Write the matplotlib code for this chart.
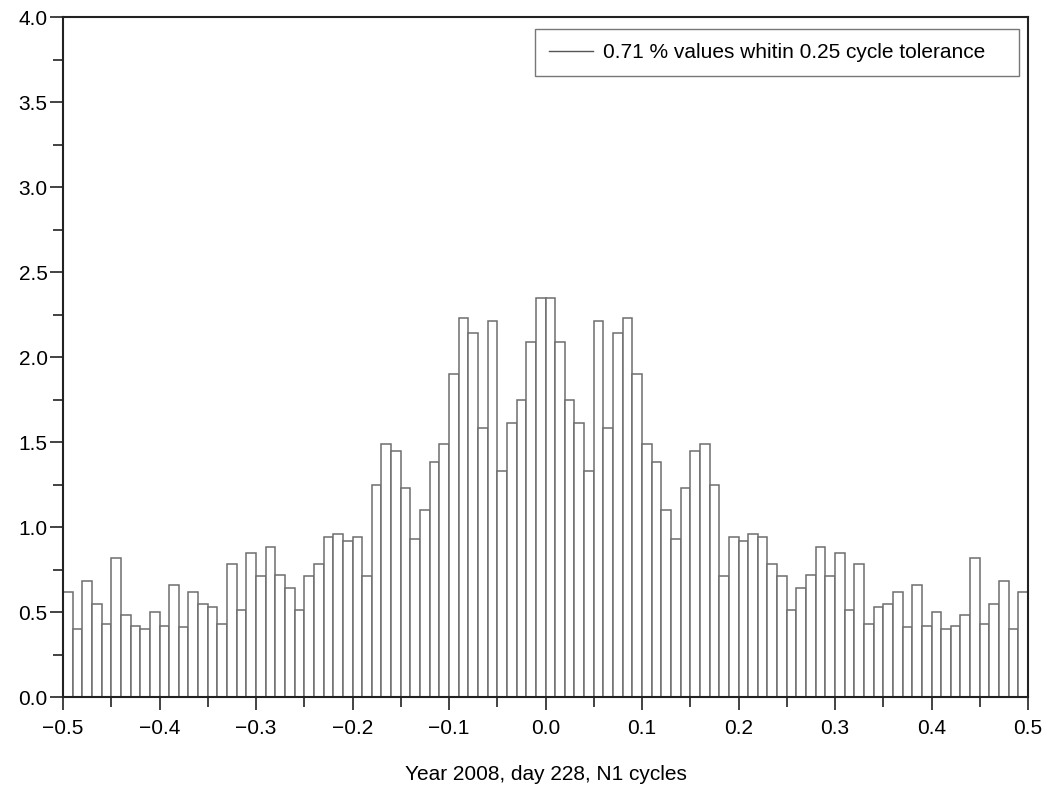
import matplotlib
matplotlib.use("Agg")
import matplotlib.pyplot as plt
from matplotlib.ticker import MultipleLocator, FuncFormatter
from matplotlib.lines import Line2D

# Histogram of N1 fractional cycles, 100 bins of width 0.01 from -0.5 to 0.5
bin_left_edges = [round(-0.5 + 0.01 * i, 2) for i in range(100)]
heights = [
    0.62, 0.40, 0.68, 0.55, 0.43, 0.82, 0.48, 0.42, 0.40, 0.50,
    0.42, 0.66, 0.41, 0.62, 0.55, 0.53, 0.43, 0.78, 0.51, 0.85,
    0.71, 0.88, 0.72, 0.64, 0.51, 0.71, 0.78, 0.94, 0.96, 0.92,
    0.94, 0.71, 1.25, 1.49, 1.45, 1.23, 0.93, 1.10, 1.38, 1.49,
    1.90, 2.23, 2.14, 1.58, 2.21, 1.33, 1.61, 1.75, 2.09, 2.35,
    2.35, 2.09, 1.75, 1.61, 1.33, 2.21, 1.58, 2.14, 2.23, 1.90,
    1.49, 1.38, 1.10, 0.93, 1.23, 1.45, 1.49, 1.25, 0.71, 0.94,
    0.92, 0.96, 0.94, 0.78, 0.71, 0.51, 0.64, 0.72, 0.88, 0.71,
    0.85, 0.51, 0.78, 0.43, 0.53, 0.55, 0.62, 0.41, 0.66, 0.42,
    0.50, 0.40, 0.42, 0.48, 0.82, 0.43, 0.55, 0.68, 0.40, 0.62,
]
bin_width = 0.01
legend_label = "0.71 % values whitin 0.25 cycle tolerance"
x_label = "Year 2008, day 228, N1 cycles"

plt.rcParams['font.family'] = ['Liberation Sans', 'DejaVu Sans']
plt.rcParams['axes.unicode_minus'] = True

fig = plt.figure(figsize=(10.57, 7.85), dpi=100)
ax = fig.add_axes([0.0596, 0.1121, 0.9130, 0.8662])

ax.bar(bin_left_edges, heights, width=bin_width, align='edge',
       facecolor='white', edgecolor='#6e6e6e', linewidth=1.1, zorder=2)

ax.set_xlim(-0.5, 0.5)
ax.set_ylim(0, 4.0)

ax.xaxis.set_major_locator(MultipleLocator(0.1))
ax.xaxis.set_minor_locator(MultipleLocator(0.05))
ax.yaxis.set_major_locator(MultipleLocator(0.5))
ax.yaxis.set_minor_locator(MultipleLocator(0.25))

fmt = FuncFormatter(lambda v, p: ("%.1f" % (0.0 if abs(v) < 1e-9 else v)).replace('-', '\u2212'))
ax.xaxis.set_major_formatter(fmt)
ax.yaxis.set_major_formatter(fmt)

ax.tick_params(which='major', direction='out', length=9.5, width=1.2,
               labelsize=15, color='#222222')
ax.tick_params(which='minor', direction='out', length=7.5, width=1.2, color='#222222')
ax.tick_params(axis='y', pad=1.5)
ax.tick_params(axis='x', pad=6.5)
ax.tick_params(top=False, right=False, which='both')

for s in ax.spines.values():
    s.set_linewidth(1.5)
    s.set_color('#222222')

ax.set_xlabel(x_label, fontsize=15, labelpad=19)

handle = Line2D([], [], color='#555555', linewidth=1.0)
leg = ax.legend([handle], [legend_label], loc='upper left',
                bbox_to_anchor=(0.4891, 0.9132, 0.5016, 0.0692), mode='expand',
                borderaxespad=0, fontsize=15, frameon=True, fancybox=False,
                shadow=False, handlelength=2.1, handletextpad=0.5, borderpad=0.68)
leg.get_frame().set_edgecolor('#555555')
leg.get_frame().set_linewidth(1.0)

fig.savefig("out.png", dpi=100, facecolor='white')
